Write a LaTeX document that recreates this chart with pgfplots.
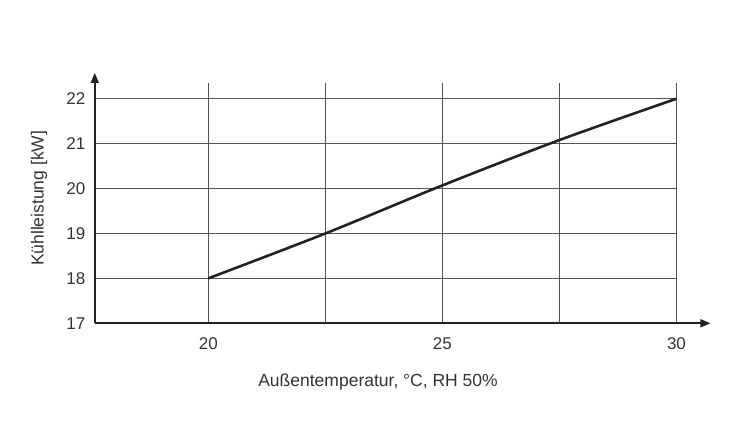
\documentclass[border=0pt]{standalone}
\usepackage{fontspec}
\setmainfont{Liberation Sans}
\usepackage{pgfplots}
\pgfplotsset{compat=1.18}
\usetikzlibrary{arrows.meta}
\definecolor{linec}{HTML}{222222}
\definecolor{gridc}{HTML}{555555}
\definecolor{txt}{HTML}{333333}
\begin{document}
\begin{tikzpicture}[x=1pt,y=1pt]
\begin{axis}[
  scale only axis,
  width=581.7pt, height=240.3pt,
  xmin=17.575, xmax=30, ymin=17, ymax=22.35,
  axis lines=left,
  x axis line style={-{Triangle[length=10pt,width=8pt]}, shorten >=-34pt, line width=1.6pt, color=linec},
  y axis line style={-{Triangle[length=10pt,width=8pt]}, shorten >=-10pt, line width=1.6pt, color=linec},
  xtick={20,25,30},
  extra x ticks={22.5,27.5},
  extra x tick labels={},
  extra x tick style={grid=major},
  ytick={17,18,19,20,21,22},
  grid=major,
  major grid style={gridc, line width=0.8pt},
  major tick length=0pt,
  /pgf/number format/assume math mode=true,
  tick label style={font=\fontsize{17}{19}\selectfont, text=txt},
  xticklabel style={yshift=-11pt},
  yticklabel style={xshift=-6pt},
  xlabel={Außentemperatur, °C, RH 50\%},
  ylabel={Kühlleistung [kW]},
  label style={font=\fontsize{17.5}{19}\selectfont, text=txt},
  xlabel style={at={(axis description cs:0.487,0)}, anchor=north, yshift=-47pt},
  ylabel style={at={(axis description cs:0,0.52)}, anchor=south, yshift=44pt},
  clip=false,
]
\addplot[linec, line width=2.6pt, smooth] coordinates {(20,18.0) (22.5,19.0) (25,20.07) (27.5,21.08) (30,22.0)};
\coordinate (O) at (axis cs:20,17);
\end{axis}
\path ([shift={(-208.3pt,-112.7pt)}]O) rectangle ++(750pt,436pt);
\end{tikzpicture}
\end{document}
